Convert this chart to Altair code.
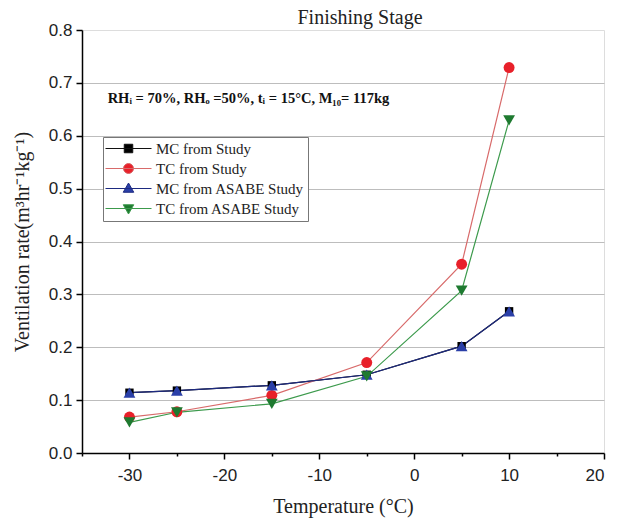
import altair as alt
import pandas as pd

temps = [-30, -25, -15, -5, 5, 10]
mc_study = [0.114, 0.118, 0.128, 0.148, 0.202, 0.268]
tc_study = [0.068, 0.078, 0.109, 0.171, 0.357, 0.729]
mc_asabe = [0.114, 0.118, 0.128, 0.148, 0.202, 0.268]
tc_asabe = [0.058, 0.077, 0.093, 0.145, 0.307, 0.629]

series_names = ["MC from Study", "TC from Study", "MC from ASABE Study", "TC from ASABE Study"]
series_values = [mc_study, tc_study, mc_asabe, tc_asabe]
series_colors = ["#000000", "#e8202a", "#2a3fa8", "#1e7a30"]
line_colors = ["#111111", "#d86a6a", "#1d2a80", "#3c9a4c"]
series_shapes = ["square", "circle", "triangle-up", "triangle-down"]
series_sizes = [70, 120, 140, 140]

note_text = "RHᵢ = 70%, RHₒ =50%, tᵢ = 15°C, M₁₀= 117kg"
note_x = [-32.3]
note_y = [0.662]

rows = []
for name, vals in zip(series_names, series_values):
    for t, v in zip(temps, vals):
        rows.append({"series": name, "temp": t, "rate": v})
df = pd.DataFrame(rows)

xscale = alt.Scale(domain=[-35, 20], nice=False, zero=False)
yscale = alt.Scale(domain=[0, 0.8], nice=False)

minor_test_y = "round(datum.value*100) % 10 != 0"
yaxis = alt.Axis(
    values=[round(i * 0.05, 2) for i in range(17)],
    labelExpr="round(datum.value*100) % 10 == 0 ? format(datum.value, '.1f') : ''",
    grid=True,
    gridColor={"condition": {"test": minor_test_y, "value": "#cfcfcf"}, "value": "#bdbdbd"},
    gridDash={"condition": {"test": minor_test_y, "value": [2, 2]}, "value": []},
    gridOpacity={"condition": {"test": "datum.value > 0.79 || datum.value < 0.01", "value": 0}, "value": 1},
    tickSize={"condition": {"test": minor_test_y, "value": 3}, "value": 6},
    title="Ventilation rate(m³hr⁻¹kg⁻¹)",
    titleFont="Liberation Serif",
    titleFontSize=20,
    titleFontWeight="normal",
    titlePadding=16,
    labelFont="Liberation Sans",
    labelFontSize=17,
    labelPadding=4,
    domainColor="#000000",
    domainWidth=1.5,
    tickColor="#000000",
    tickWidth=1.5,
    labelColor="#222222",
    titleColor="#222222",
)
minor_test_x = "datum.value % 10 != 0"
xaxis = alt.Axis(
    values=list(range(-35, 25, 5)),
    labelExpr="datum.value % 10 == 0 ? datum.value : ''",
    grid=False,
    tickSize={"condition": {"test": minor_test_x, "value": 3}, "value": 6},
    title="Temperature (°C)",
    titleFont="Liberation Serif",
    titleFontSize=20,
    titleFontWeight="normal",
    titlePadding=13,
    labelFont="Liberation Sans",
    labelFontSize=17,
    labelPadding=8,
    domainColor="#000000",
    domainWidth=1.5,
    tickColor="#000000",
    tickWidth=1.5,
    labelColor="#222222",
    titleColor="#222222",
)

shape_sig = (
    "datum.value == 'MC from Study' ? 'M-4.6,0H4.6M-0.85,-0.85H0.85V0.85H-0.85Z' : "
    "datum.value == 'TC from Study' ? 'M-4.6,0H4.6M-1,0A1,1,0,1,1,1,0A1,1,0,1,1,-1,0Z' : "
    "datum.value == 'MC from ASABE Study' ? 'M-4.6,0H4.6M0,-1.1L1.05,0.75H-1.05Z' : "
    "'M-4.6,0H4.6M0,1.1L1.05,-0.75H-1.05Z'"
)
fill_sig = (
    "datum.value == 'MC from Study' ? '#000000' : "
    "datum.value == 'TC from Study' ? '#e8202a' : "
    "datum.value == 'MC from ASABE Study' ? '#2a3fa8' : '#1e7a30'"
)

legend = alt.Legend(
    title=None,
    orient="none",
    legendX=21,
    legendY=107,
    labelFont="Liberation Serif",
    labelFontSize=15,
    labelColor="#222222",
    labelLimit=400,
    symbolSize=100,
    symbolType={"expr": shape_sig},
    symbolFillColor={"expr": fill_sig},
    symbolStrokeColor={"expr": fill_sig},
    symbolStrokeWidth=1,
    symbolOffset=14,
    labelOffset=20,
    rowPadding=4,
    padding=4,
    strokeColor="#777777",
    fillColor="#ffffff",
)

color = alt.Color("series:N", scale=alt.Scale(domain=series_names, range=line_colors), legend=legend)

base = alt.Chart(df)

layers = [
    base.mark_line(strokeWidth=1.2).encode(
        x=alt.X("temp:Q", scale=xscale, axis=xaxis),
        y=alt.Y("rate:Q", scale=yscale, axis=yaxis),
        color=color,
        detail="series:N",
        order=alt.Order("temp:Q"),
    )
]
for name, pc, shp, sz in zip(series_names, series_colors, series_shapes, series_sizes):
    sub = base.transform_filter(alt.datum.series == name)
    layers.append(
        sub.mark_point(shape=shp, filled=True, color=pc, size=sz, opacity=1).encode(
            x="temp:Q",
            y="rate:Q",
        )
    )

note_df = pd.DataFrame({"x": note_x, "y": note_y, "t": [note_text]})
note = alt.Chart(note_df).mark_text(
    align="left", baseline="alphabetic", font="Liberation Serif", fontSize=14.5,
    fontWeight="bold", color="#111111"
).encode(x="x:Q", y="y:Q", text="t:N")

chart = alt.layer(*layers, note).properties(
    width=522,
    height=423,
    padding={"left": 82, "top": 30, "right": 20, "bottom": 70},
    autosize=alt.AutoSizeParams(type="none"),
    title=alt.TitleParams(
        "Finishing Stage", font="Liberation Serif", fontSize=20, fontWeight="normal",
        color="#222222", anchor="middle", dx=17, dy=12, offset=5, frame="group"
    ),
).configure_view(stroke=None).configure(background="white")

chart.save("out.html", embed_options={"renderer": "svg", "actions": False})
